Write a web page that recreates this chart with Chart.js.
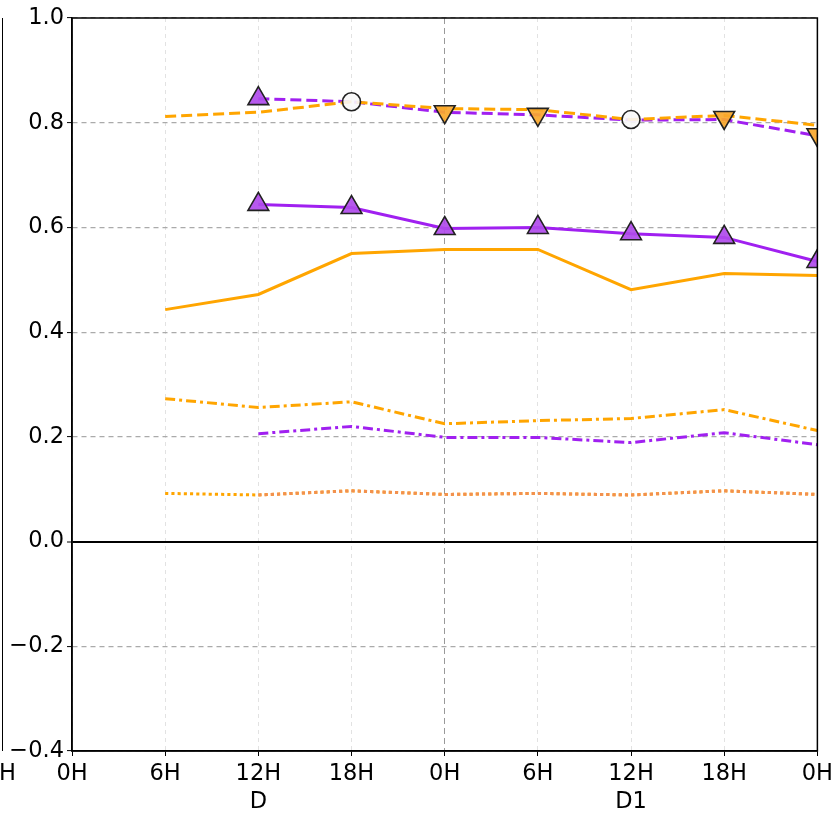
<!DOCTYPE html>
<html>
<head>
<meta charset="utf-8">
<script src="https://cdn.jsdelivr.net/npm/chart.js@4.4.1/dist/chart.umd.min.js"></script>
<style>
  html, body { margin: 0; padding: 0; background: #fff; }
  #wrap { position: relative; width: 837px; height: 813px; }
  #leftPanel { position: absolute; left: 0; top: 18px; width: 2px; height: 733px; border-right: 1.5px solid #000; }
  #leftH { position: absolute; left: -1px; top: 759px; font: 22.5px "DejaVu Sans"; color: #000; }
</style>
</head>
<body>
<div id="wrap">
  <canvas id="chart" width="837" height="813"></canvas>
  <div id="leftPanel"></div>
  <div id="leftH">H</div>
</div>
<script>
// x ticks (second row = day label)
const hours = ['0H', '6H', ['12H', 'D'], '18H', '0H', '6H', ['12H', 'D1'], '18H', '0H'];
const yTicks = [1.0, 0.8, 0.6, 0.4, 0.2, 0.0, -0.2, -0.4];

// series values
const orangeDashed  = [null, 0.812, 0.820, 0.840, 0.827, 0.825, 0.806, 0.814, 0.795];
const purpleDashed  = [null, null, 0.846, 0.840, 0.820, 0.815, 0.805, 0.806, 0.775];
const purpleSolid   = [null, null, 0.644, 0.638, 0.598, 0.600, 0.588, 0.581, 0.535];
const orangeSolid   = [null, 0.443, 0.472, 0.550, 0.558, 0.558, 0.481, 0.512, 0.508];
const orangeDashDot = [null, 0.273, 0.256, 0.267, 0.225, 0.231, 0.235, 0.252, 0.212];
const purpleDashDot = [null, null, 0.206, 0.220, 0.199, 0.199, 0.189, 0.208, 0.185];
const orangeDotted  = [null, 0.092, 0.089, 0.097, 0.090, 0.092, 0.089, 0.097, 0.090];
const salmonDotted  = [null, null, 0.089, 0.097, 0.090, 0.092, 0.089, 0.097, 0.090];

// markers on the top pair of lines
const markerValues = [null, null, 0.846, 0.840, 0.821, 0.816, 0.806, 0.810, 0.777];
const markerKinds  = [null, null, 'up', 'circle', 'down', 'down', 'circle', 'down', 'down'];

const ORANGE = '#ffa500';
const PURPLE = '#a020f0';
const DOT = [3.108, 3.108]; // 15 periods per x step, keeps both dotted lines in phase

function lineSet(data, color, dash) {
  return {
    data: data,
    borderColor: color,
    borderWidth: 3,
    borderDash: dash,
    pointRadius: 0,
    fill: false,
    tension: 0,
    clip: 0
  };
}

const triSet = Object.assign(lineSet(purpleSolid, PURPLE, []), {
  pointStyle: 'triangle',
  pointRadius: 12,
  pointBackgroundColor: 'rgba(176, 75, 235, 0.92)',
  pointBorderColor: '#222',
  pointBorderWidth: 1.6
});

const markerSet = {
  data: markerValues,
  showLine: false,
  clip: 0,
  pointStyle: markerKinds.map(k => k === 'circle' ? 'circle' : 'triangle'),
  pointRotation: markerKinds.map(k => k === 'down' ? 180 : 0),
  pointRadius: markerKinds.map(k => k === null ? 0 : (k === 'circle' ? 9 : 12)),
  pointBackgroundColor: markerKinds.map(k => k === 'up' ? 'rgba(176, 75, 235, 0.92)' :
    (k === 'down' ? 'rgba(250, 168, 45, 0.92)' : 'rgba(248, 248, 248, 0.9)')),
  pointBorderColor: '#222',
  pointBorderWidth: 1.6
};

const frame = {
  id: 'frame',
  afterDatasetsDraw(chart) {
    const a = chart.chartArea;
    const ctx = chart.ctx;
    ctx.save();
    ctx.strokeStyle = '#000';
    ctx.lineWidth = 1.5;
    ctx.strokeRect(a.left, a.top, a.right - a.left, a.bottom - a.top);
    ctx.restore();
  }
};

new Chart(document.getElementById('chart'), {
  type: 'line',
  data: {
    labels: hours,
    datasets: [
      markerSet,
      triSet,
      lineSet(orangeDashed, ORANGE, [11, 5]),
      lineSet(purpleDashed, PURPLE, [11, 5]),
      lineSet(orangeSolid, ORANGE, []),
      lineSet(orangeDashDot, ORANGE, [10, 4, 3, 4]),
      lineSet(purpleDashDot, PURPLE, [10, 4, 3, 4]),
      lineSet(salmonDotted, '#f29050', DOT),
      lineSet(orangeDotted, ORANGE, DOT)
    ]
  },
  options: {
    responsive: false,
    animation: false,
    events: [],
    layout: { padding: { left: 0, right: 19, top: 18, bottom: 0 } },
    plugins: { legend: { display: false }, tooltip: { enabled: false } },
    scales: {
      x: {
        offset: false,
        afterFit(s) { s.height = 62; },
        grid: {
          color: c => c.index === 4 ? '#999' : '#e2e2e2',
          lineWidth: 1,
          tickColor: '#000',
          tickLength: 5,
          tickWidth: 1
        },
        border: {
          display: true,
          color: '#000',
          width: 1.5,
          dash: c => (c.tick ? (c.index === 4 ? [6, 4] : [4, 4]) : [])
        },
        ticks: {
          color: '#000',
          padding: 4,
          autoSkip: false,
          maxRotation: 0,
          font: { family: 'DejaVu Sans', size: 22.5, lineHeight: 1.25 }
        }
      },
      y: {
        min: -0.4,
        max: 1.0,
        afterFit(s) { s.width = 72; },
        afterBuildTicks(s) { s.ticks = yTicks.map(v => ({ value: v })); },
        grid: {
          color: c => (c.tick && Math.abs(c.tick.value) < 1e-9) ? '#000' : '#aaa',
          lineWidth: c => (c.tick && Math.abs(c.tick.value) < 1e-9) ? 2 : 1.2,
          tickColor: '#000',
          tickLength: 5,
          tickWidth: 1
        },
        border: {
          display: true,
          color: '#000',
          width: 1.5,
          dash: c => (c.tick && Math.abs(c.tick.value) > 1e-9) ? [5, 4] : []
        },
        ticks: {
          color: '#000',
          padding: 3,
          font: { family: 'DejaVu Sans', size: 22.5 },
          callback: v => (v < 0 ? '\u2212' : '') + Math.abs(v).toFixed(1)
        }
      }
    }
  },
  plugins: [frame]
});
</script>
</body>
</html>
